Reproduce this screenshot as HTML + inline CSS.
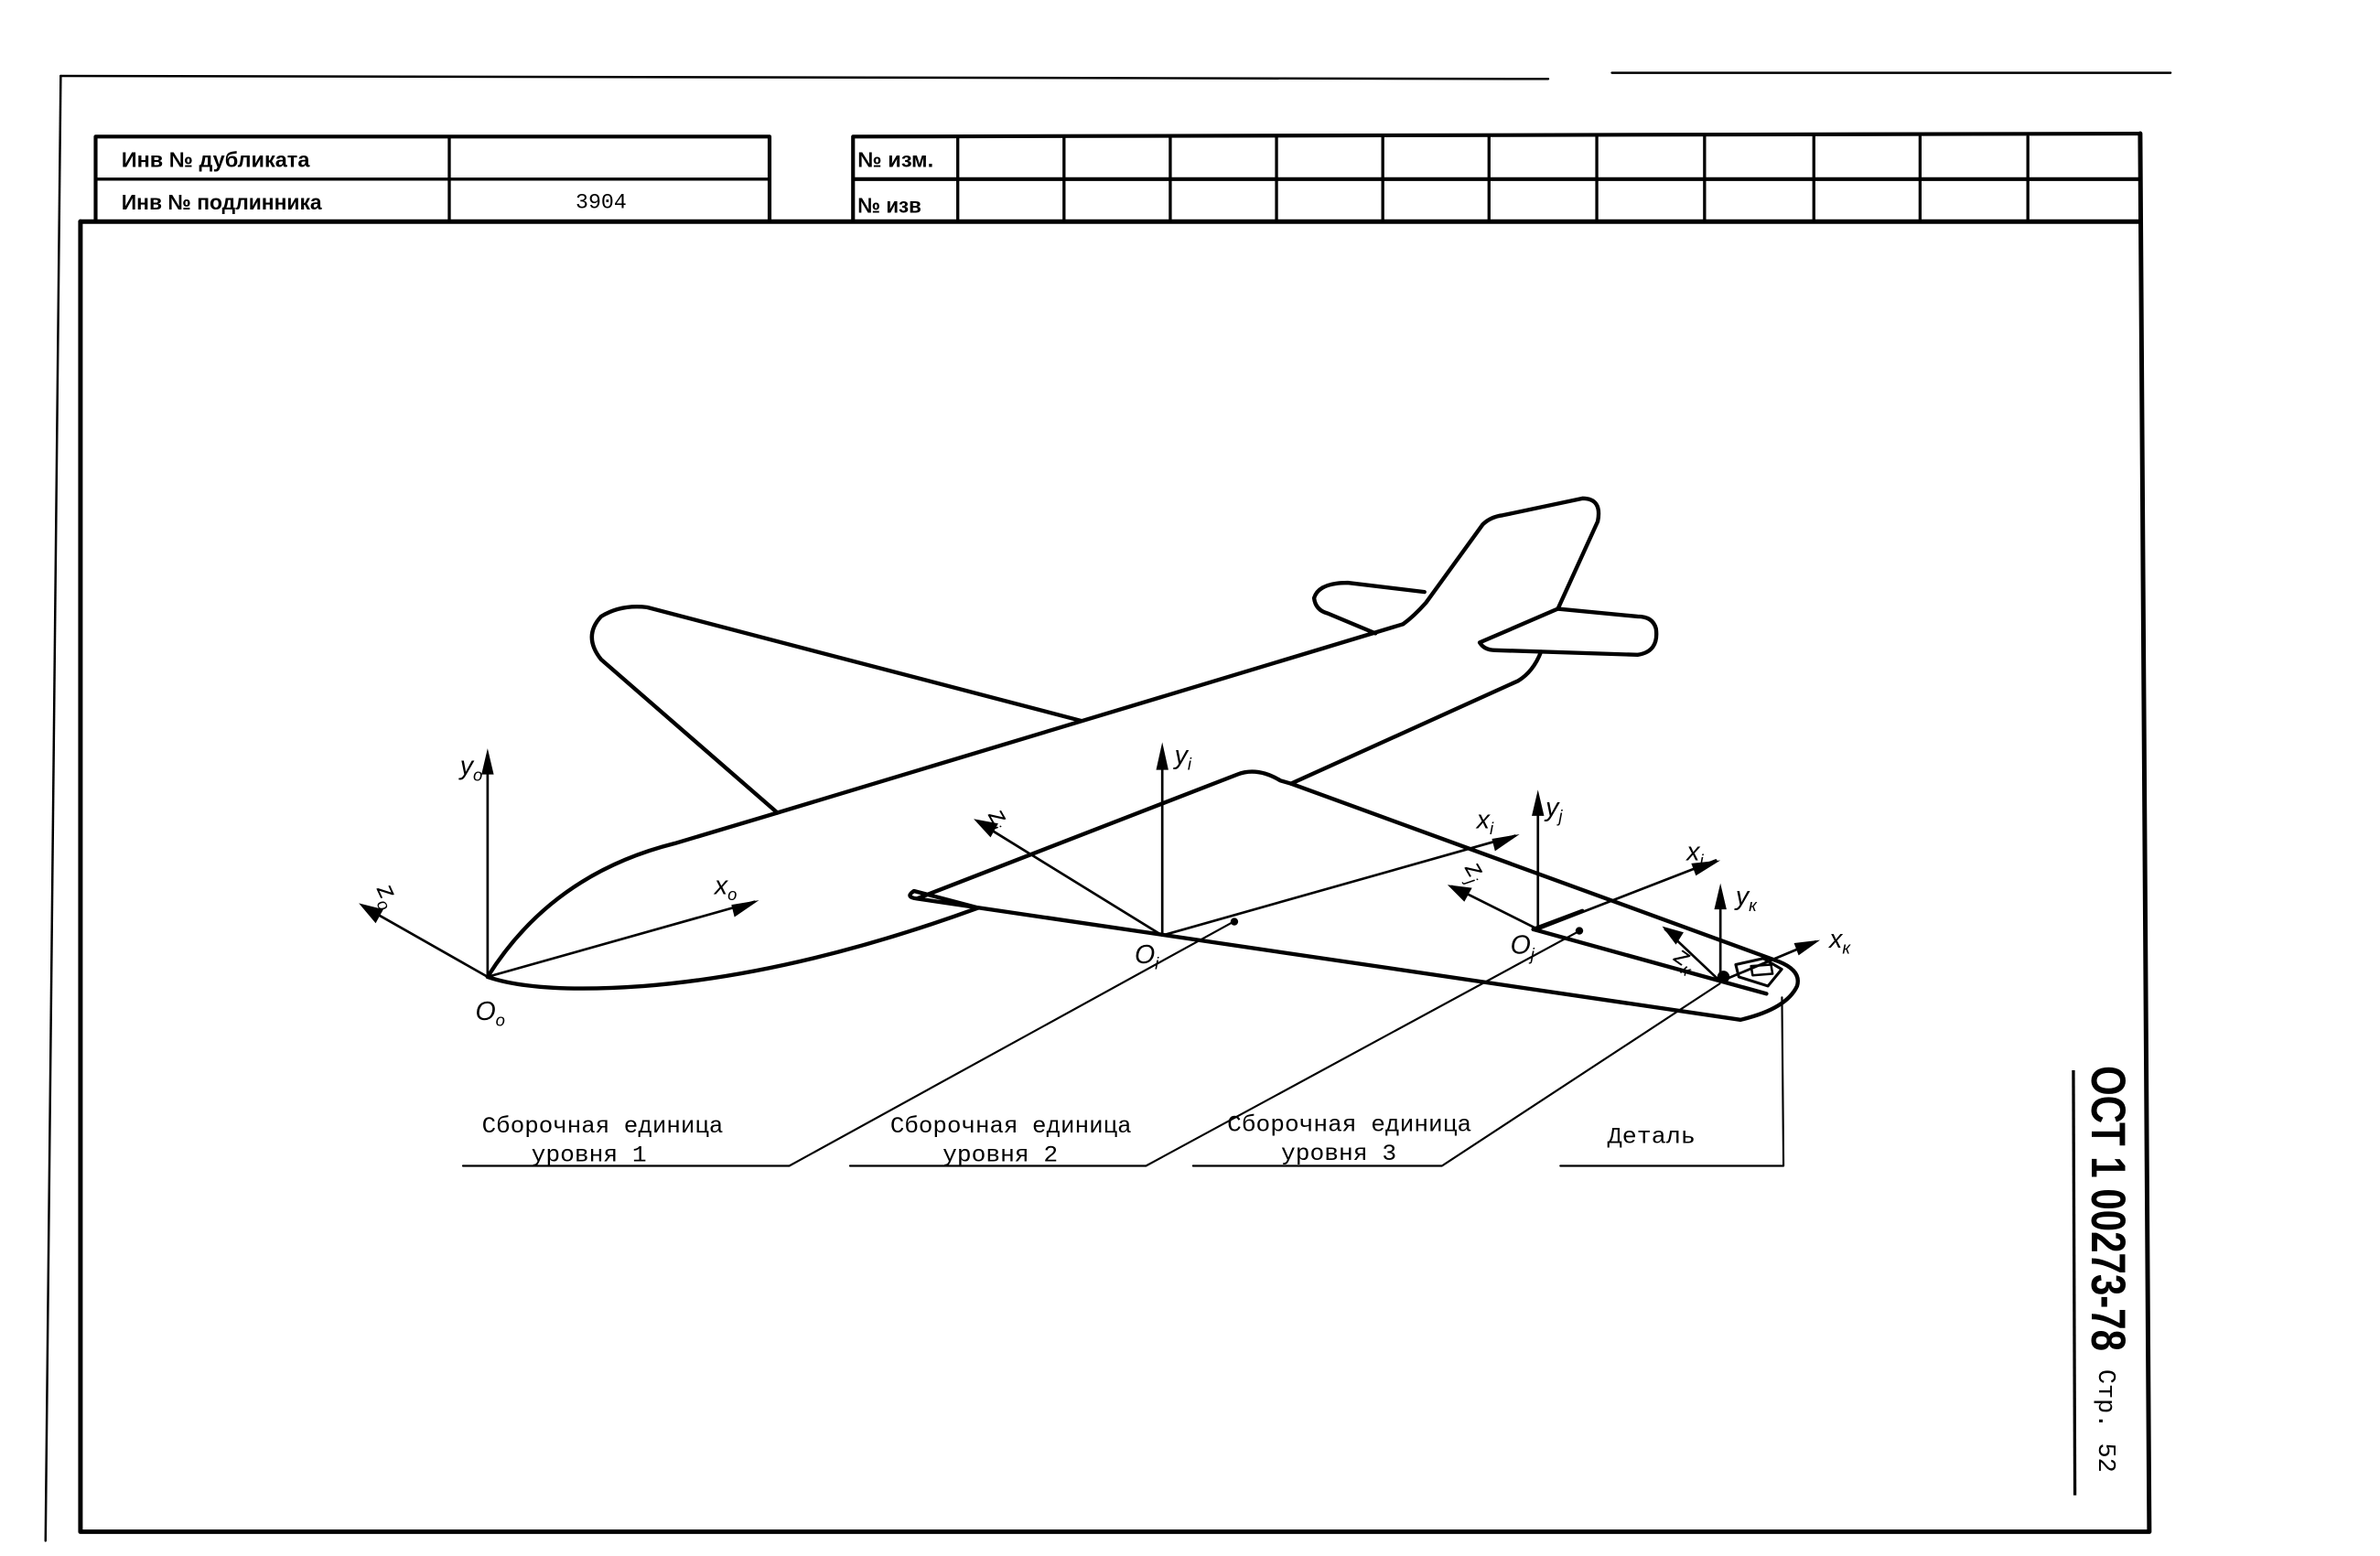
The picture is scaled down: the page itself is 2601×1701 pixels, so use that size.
<!DOCTYPE html>
<html><head><meta charset="utf-8"><style>
html,body{margin:0;padding:0;background:#fff;}
svg{display:block;}
.t{font-family:"Liberation Sans Narrow","Liberation Sans",sans-serif;font-weight:bold;}
.s{font-family:"Liberation Mono","Liberation Serif",serif;}
.i{font-family:"Liberation Sans",sans-serif;font-style:italic;}
</style></head><body>
<svg width="2601" height="1701" viewBox="0 0 1568 1025" preserveAspectRatio="none" xmlns="http://www.w3.org/2000/svg">
<g fill="none" stroke="#000" stroke-linecap="round" stroke-linejoin="round">
<!-- outer sheet lines -->
<path d="M40 50 L1020 52" stroke-width="1.5"/>
<path d="M1062 48 L1430 48" stroke-width="1.5"/>
<path d="M40 50 L30 1015" stroke-width="1.5"/>
<!-- inner frame -->
<path d="M53 146 L53 1009 L1416 1009 L1410 88" stroke-width="3"/>
<!-- left table -->
<rect x="63" y="90" width="444" height="56" stroke-width="2.5"/>
<path d="M63 118 L507 118 M296 90 L296 146" stroke-width="2"/>
<!-- right table -->
<path d="M562 90 L1410 88 M562 146 L1410 146 M562 90 L562 146 M562 118 L1410 118" stroke-width="2.5"/>
<path d="M631 90V146 M701 90V146 M771 90V146 M841 90V146 M911 90V146 M981 90V146 M1052 90V146 M1123 90V146 M1195 90V146 M1265 90V146 M1336 90V146" stroke-width="2"/>
<path d="M53 146 L1410 146" stroke-width="3"/>

<g transform="scale(1.0102)">
<!-- airplane -->
<g stroke-width="2.6">
<path d="M318 637 Q360 570 440 550 L507 530 L915 407"/>
<path d="M318 637 Q350 648 420 643 Q520 635 638 592"/>
<path d="M842 511 L990 444 Q1000 438 1005 425"/>
<path d="M507 530 L392 430 Q380 415 392 402 Q405 394 422 396 L705 470"/>
<path d="M915 407 Q922 402 930 393 L967 342 Q972 337 980 336 L1032 325 Q1045 325 1042 340 L1016 397"/>
<path d="M1016 397 L965 419 Q968 424 975 424 L1068 427 Q1082 425 1080 410 Q1078 402 1068 402 L1016 397"/>
<path d="M929 386 L879 380 Q860 380 857 390 Q858 398 866 400 L897 413"/>
<path d="M638 592 L596 581 Q590 585 598 586 L807 505 Q820 500 835 509 L842 511 L1160 627 Q1175 633 1172 643 Q1165 658 1135 665 L598 586"/>
<path d="M1000 606 L1152 648"/>
<path d="M1000 606 L1032 594"/>
<path d="M1132 629 L1150 625 L1162 632 L1153 643 L1134 637 Z" stroke-width="1.8"/>
<path d="M1142 630 L1155 629 L1156 635 L1143 636 Z" stroke-width="1.5"/>
</g>
<!-- axes -->
<g stroke-width="1.6">
<path d="M318 637 L318 492"/>
<path d="M318 637 L237 591"/>
<path d="M318 637 L492 588"/>
<path d="M758 610 L758 488"/>
<path d="M758 610 L638 536"/>
<path d="M758 610 L988 545"/>
<path d="M1003 606 L1003 519"/>
<path d="M1003 606 L947 578"/>
<path d="M1003 606 L1119 561"/>
<path d="M1122 640 L1122 580"/>
<path d="M1122 640 L1086 606"/>
<path d="M1122 640 L1184 614"/>
</g>
<g fill="#000" stroke="none">
<polygon points="318,488 314,505 322,505"/>
<polygon points="234,589 250,593 245,602"/>
<polygon points="495,587 479,598 477,590"/>
<polygon points="758,484 754,502 762,502"/>
<polygon points="635,534 651,537 646,546"/>
<polygon points="991,544 975,555 973,547"/>
<polygon points="1003,515 999,532 1007,532"/>
<polygon points="944,577 960,579 955,588"/>
<polygon points="1122,561 1106,571 1103,563"/>
<polygon points="1122,576 1118,593 1126,593"/>
<polygon points="1084,604 1098,608 1093,616"/>
<polygon points="1187,613 1173,623 1170,615"/>
<circle cx="805" cy="601" r="2.5"/>
<circle cx="1030" cy="607" r="2.5"/>
<ellipse cx="1124" cy="637" rx="4" ry="4"/>
</g>
<g class="i" fill="#000" font-size="17" stroke="none">
<text x="300" y="505">y<tspan font-size="11" dy="4">o</tspan></text>
<text x="242" y="585" transform="rotate(65 248 585)">z<tspan font-size="11" dy="4">o</tspan></text>
<text x="466" y="583">x<tspan font-size="11" dy="4">o</tspan></text>
<text x="310" y="665">O<tspan font-size="11" dy="4">o</tspan></text>
<text x="766" y="498">y<tspan font-size="11" dy="4">i</tspan></text>
<text x="645" y="540" transform="rotate(60 652 535)">z<tspan font-size="11" dy="4">i</tspan></text>
<text x="963" y="540">x<tspan font-size="11" dy="4">i</tspan></text>
<text x="740" y="628">O<tspan font-size="11" dy="4">i</tspan></text>
<text x="1008" y="532">y<tspan font-size="11" dy="4">j</tspan></text>
<text x="955" y="574" transform="rotate(60 962 570)">z<tspan font-size="11" dy="4">j</tspan></text>
<text x="1100" y="561">x<tspan font-size="11" dy="4">j</tspan></text>
<text x="985" y="622">O<tspan font-size="11" dy="4">j</tspan></text>
<text x="1132" y="590">y<tspan font-size="11" dy="4">к</tspan></text>
<text x="1092" y="630" transform="rotate(35 1098 626)">z<tspan font-size="11" dy="4">к</tspan></text>
<text x="1193" y="618">x<tspan font-size="11" dy="4">к</tspan></text>
</g>
</g>

<!-- leaders -->
<g stroke-width="1.3">
<path d="M305 768 L520 768 L813 607"/>
<path d="M560 768 L755 768 L1041 613"/>
<path d="M786 768 L950 768 L1133 648"/>
<path d="M1028 768 L1175 768 L1174 657"/>
</g>
</g>

<!-- table text -->
<g class="t" font-size="14" fill="#000">
<text x="80" y="110" textLength="124" lengthAdjust="spacingAndGlyphs">Инв  № дубликата</text>
<text x="80" y="138" textLength="132" lengthAdjust="spacingAndGlyphs">Инв  № подлинника</text>
<text x="565" y="110" textLength="50" lengthAdjust="spacingAndGlyphs">№ изм.</text>
<text x="565" y="140" textLength="42" lengthAdjust="spacingAndGlyphs">№ изв</text>
</g>
<text class="s" x="396" y="137" font-size="14" text-anchor="middle">3904</text>

<!-- leader labels -->
<g class="s" fill="#000" font-size="15" text-anchor="middle">
<text x="397" y="746" textLength="159" lengthAdjust="spacingAndGlyphs">Сборочная единица</text>
<text x="388" y="765" textLength="76" lengthAdjust="spacingAndGlyphs">уровня  1</text>
<text x="666" y="746" textLength="159" lengthAdjust="spacingAndGlyphs">Сборочная единица</text>
<text x="659" y="765" textLength="76" lengthAdjust="spacingAndGlyphs">уровня  2</text>
<text x="889" y="745" textLength="161" lengthAdjust="spacingAndGlyphs">Сборочная единица</text>
<text x="882" y="764" textLength="76" lengthAdjust="spacingAndGlyphs">уровня  3</text>
<text x="1088" y="753" textLength="58" lengthAdjust="spacingAndGlyphs">Деталь</text>
</g>

<!-- vertical designation -->
<path d="M1366 705 L1367 985" stroke="#000" stroke-width="2"/>
<g transform="translate(1389 0) rotate(90)">
<text class="t" x="702" y="11" font-size="32" textLength="188" lengthAdjust="spacingAndGlyphs">ОСТ 1 00273-78</text>
<text class="s" x="902" y="6" font-size="16" textLength="68" lengthAdjust="spacingAndGlyphs">Стр. 52</text>
</g>
</svg>
</body></html>
